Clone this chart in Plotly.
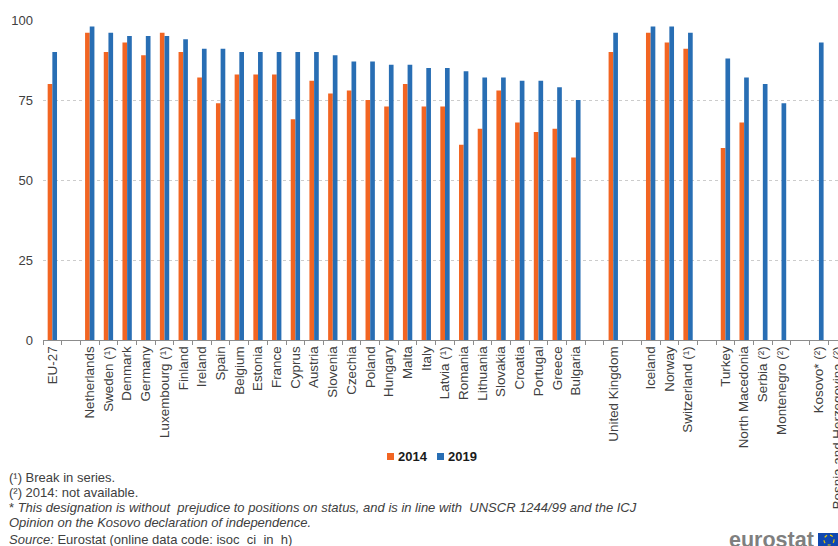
import plotly.graph_objects as go

categories = ["EU-27", " ", "Netherlands", "Sweden (¹)", "Denmark", "Germany", "Luxembourg (¹)", "Finland",
              "Ireland", "Spain", "Belgium", "Estonia", "France", "Cyprus", "Austria", "Slovenia", "Czechia",
              "Poland", "Hungary", "Malta", "Italy", "Latvia (¹)", "Romania", "Lithuania", "Slovakia", "Croatia",
              "Portugal", "Greece", "Bulgaria", "  ", "United Kingdom", "   ", "Iceland", "Norway",
              "Switzerland (¹)", "    ", "Turkey", "North Macedonia", "Serbia (²)", "Montenegro (²)", "     ",
              "Kosovo* (²)", "Bosnia and Herzegovina (²)"]
values_2014 = [80, None, 96, 90, 93, 89, 96, 90, 82, 74, 83, 83, 83, 69, 81, 77, 78, 75, 73, 80, 73, 73, 61, 66, 78,
               68, 65, 66, 57, None, 90, None, 96, 93, 91, None, 60, 68, None, None, None, None, None]
values_2019 = [90, None, 98, 96, 95, 95, 95, 94, 91, 91, 90, 90, 90, 90, 90, 89, 87, 87, 86, 86, 85, 85, 84, 82, 82,
               81, 81, 79, 75, None, 96, None, 98, 98, 96, None, 88, 82, 80, 74, None, 93, None]
y_ticks = [0, 25, 50, 75, 100]
footnotes = ["(¹) Break in series.", "(²) 2014: not available.",
             "* <i>This designation is without  prejudice to positions on status, and is in line with  UNSCR 1244/99 and the ICJ</i>",
             "<i>Opinion on the Kosovo declaration of independence.</i>",
             "<i>Source:</i> Eurostat (online data code: isoc_ci_in_h)"]

ORANGE, BLUE, TEXT = "#F26522", "#286EB4", "#404040"
FONT = "Liberation Sans"
L, T, B = 43, 20, 340
W, H = 838, 546
px = lambda x: (x - L) / (W - L)
py = lambda y: (B - y) / (B - T)

fig = go.Figure()
fig.add_bar(x=categories, y=values_2014, name="2014", marker=dict(color=ORANGE, line_width=0), showlegend=False)
fig.add_bar(x=categories, y=values_2019, name="2019", marker=dict(color=BLUE, line_width=0), showlegend=False)

ann = []
for text, y in zip(footnotes, [477, 492, 507, 522, 539.5]):
    ann.append(dict(text=text, x=px(7), y=py(y), xref="paper", yref="paper", xanchor="left", yanchor="middle",
                    showarrow=False, align="left", font=dict(family=FONT, size=13, color=TEXT)))
for text, x in [("2014", 396), ("2019", 446)]:
    ann.append(dict(text=f"<b>{text}</b>", x=px(x), y=py(456.5), xref="paper", yref="paper", xanchor="left",
                    yanchor="middle", showarrow=False, font=dict(family=FONT, size=13, color="#1A1A1A")))
ann.append(dict(text="<b>eurostat</b>", x=px(816), y=py(540), xref="paper", yref="paper", xanchor="right",
                yanchor="middle", showarrow=False, font=dict(family=FONT, size=21.5, color="#7F7F7F")))

shapes = []
for color, x in [(ORANGE, 387), (BLUE, 437)]:
    shapes.append(dict(type="rect", xref="paper", yref="paper", x0=px(x), x1=px(x + 7), y0=py(460), y1=py(453),
                       fillcolor=color, line_width=0))
shapes.append(dict(type="rect", xref="paper", yref="paper", x0=px(818), x1=px(838), y0=py(546), y1=py(533),
                   fillcolor="#0F47AF", line_width=0))
shapes.append(dict(type="circle", xref="paper", yref="paper", x0=px(824), x1=px(834), y0=py(545), y1=py(535),
                   line=dict(color="#E6C800", width=1.2, dash="dot")))

fig.update_layout(
    width=W, height=H, margin=dict(l=L, r=0, t=T, b=H - B, autoexpand=False), autosize=False,
    paper_bgcolor="white", plot_bgcolor="white", barmode="group", bargap=0.5, bargroupgap=0,
    showlegend=False, annotations=ann, shapes=shapes, font=dict(family=FONT, size=13, color=TEXT),
    xaxis=dict(type="category", categoryorder="array", categoryarray=categories, range=[-0.5, 42.02],
               tickmode="linear", dtick=1, tickson="boundaries", ticks="outside", ticklen=4, tickcolor="#8C8C8C",
               tickangle=-90, showline=True, linecolor="#8C8C8C", linewidth=1, showgrid=False,
               tickfont=dict(family=FONT, size=13.4, color=TEXT), automargin=False),
    yaxis=dict(range=[0, 100], tickvals=y_ticks, showgrid=True, gridcolor="#CCCCCC", griddash="dot", gridwidth=1,
               zeroline=False, showline=False, ticks="", ticklabelstandoff=9,
               tickfont=dict(family=FONT, size=13, color=TEXT), automargin=False),
)
fig.write_html("out.html", config={"displayModeBar": False},
               post_script="document.body.style.margin='0';document.documentElement.style.overflow='hidden';")
